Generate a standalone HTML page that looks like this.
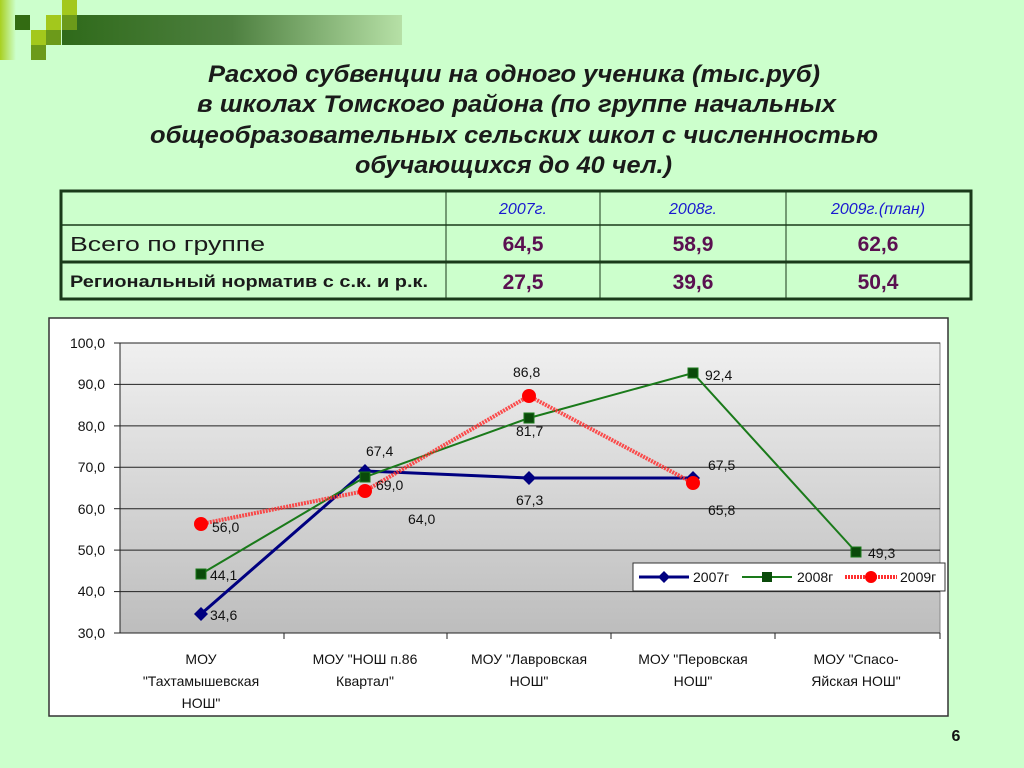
<!DOCTYPE html>
<html><head><meta charset="utf-8"><style>
body{margin:0;width:1024px;height:768px;background:#ccffcc;overflow:hidden;font-family:"Liberation Sans",sans-serif}
</style></head><body>
<svg width="1024" height="768" xmlns="http://www.w3.org/2000/svg" style="position:absolute;left:0;top:0">
<defs>
<linearGradient id="bar" x1="0" x2="1"><stop offset="0" stop-color="#2f6a1a"/><stop offset="0.5" stop-color="#4e8040"/><stop offset="1" stop-color="#b6e0a6"/></linearGradient>
<linearGradient id="lft" x1="0" x2="1"><stop offset="0" stop-color="#a8d020"/><stop offset="1" stop-color="#ccffcc"/></linearGradient>
<linearGradient id="plot" x1="0" y1="0" x2="0" y2="1"><stop offset="0" stop-color="#f0f0f0"/><stop offset="1" stop-color="#bdbdbd"/></linearGradient>
</defs>
<rect x="0" y="0" width="16" height="60" fill="url(#lft)"/>
<rect x="62" y="15" width="340" height="30" fill="url(#bar)"/>
<rect x="62" y="0" width="15" height="15" fill="#a3c81c"/>
<rect x="15" y="15" width="15" height="15" fill="#336b12"/>
<rect x="46" y="15" width="15" height="15" fill="#a3c81c"/>
<rect x="62" y="15" width="15" height="15" fill="#6c9a1a"/>
<rect x="31" y="30" width="15" height="15" fill="#a3c81c"/>
<rect x="46" y="30" width="15" height="15" fill="#6c9a1a"/>
<rect x="31" y="45" width="15" height="15" fill="#6c9a1a"/>
<g font-weight="bold" font-style="italic" font-size="24" fill="#1a1a1a" lengthAdjust="spacingAndGlyphs">
<text x="208" y="82" textLength="612" lengthAdjust="spacingAndGlyphs">Расход субвенции на одного ученика (тыс.руб)</text>
<text x="197" y="112" textLength="639" lengthAdjust="spacingAndGlyphs">в школах Томского района (по группе начальных</text>
<text x="150" y="143" textLength="728" lengthAdjust="spacingAndGlyphs">общеобразовательных сельских школ с численностью</text>
<text x="355" y="173" textLength="317" lengthAdjust="spacingAndGlyphs">обучающихся до 40 чел.)</text>
</g>
<g stroke="#1a3a1a" fill="none">
<rect x="61" y="191" width="910" height="108" stroke-width="3"/>
<line x1="61" y1="225" x2="971" y2="225" stroke-width="1.5"/>
<line x1="61" y1="262" x2="971" y2="262" stroke-width="3"/>
<line x1="446" y1="191" x2="446" y2="299" stroke-width="1"/>
<line x1="600" y1="191" x2="600" y2="299" stroke-width="1"/>
<line x1="786" y1="191" x2="786" y2="299" stroke-width="1"/>
</g>
<g font-style="italic" font-size="16" fill="#1a1ad0" text-anchor="middle">
<text x="523" y="214">2007г.</text><text x="693" y="214">2008г.</text><text x="878" y="214">2009г.(план)</text>
</g>
<text x="70" y="251" font-size="20" fill="#1a1a1a" textLength="195" lengthAdjust="spacingAndGlyphs">Всего по группе</text>
<text x="70" y="287" font-size="17" font-weight="bold" fill="#1a1a1a" textLength="358" lengthAdjust="spacingAndGlyphs">Региональный норматив с с.к. и р.к.</text>
<g font-size="21" font-weight="bold" fill="#5a1050" text-anchor="middle">
<text x="523" y="251">64,5</text><text x="693" y="251">58,9</text><text x="878" y="251">62,6</text>
<text x="523" y="289">27,5</text><text x="693" y="289">39,6</text><text x="878" y="289">50,4</text>
</g>
<rect x="49" y="318" width="899" height="398" fill="#fff" stroke="#333" stroke-width="1.5"/>
<rect x="120" y="343" width="820" height="290" fill="url(#plot)" stroke="#888"/>
<g stroke="#222" stroke-width="1">
<line x1="120" y1="343" x2="940" y2="343"/><line x1="120" y1="384.4" x2="940" y2="384.4"/><line x1="120" y1="425.9" x2="940" y2="425.9"/><line x1="120" y1="467.3" x2="940" y2="467.3"/><line x1="120" y1="508.7" x2="940" y2="508.7"/><line x1="120" y1="550.1" x2="940" y2="550.1"/><line x1="120" y1="591.6" x2="940" y2="591.6"/><line x1="120" y1="633" x2="940" y2="633"/>
<line x1="120" y1="343" x2="120" y2="633"/>
<line x1="114" y1="343" x2="120" y2="343"/><line x1="114" y1="384.4" x2="120" y2="384.4"/><line x1="114" y1="425.9" x2="120" y2="425.9"/><line x1="114" y1="467.3" x2="120" y2="467.3"/><line x1="114" y1="508.7" x2="120" y2="508.7"/><line x1="114" y1="550.1" x2="120" y2="550.1"/><line x1="114" y1="591.6" x2="120" y2="591.6"/><line x1="114" y1="633" x2="120" y2="633"/>
<line x1="284" y1="633" x2="284" y2="639"/><line x1="447" y1="633" x2="447" y2="639"/><line x1="611" y1="633" x2="611" y2="639"/><line x1="775" y1="633" x2="775" y2="639"/><line x1="940" y1="633" x2="940" y2="639"/>
</g>
<g font-size="14" fill="#111" text-anchor="end">
<text x="105" y="348">100,0</text><text x="105" y="389">90,0</text><text x="105" y="431">80,0</text><text x="105" y="472">70,0</text><text x="105" y="514">60,0</text><text x="105" y="555">50,0</text><text x="105" y="596">40,0</text><text x="105" y="638">30,0</text>
</g>
<g font-size="14" fill="#111" text-anchor="middle">
<text x="201" y="664">МОУ</text><text x="201" y="686">"Тахтамышевская</text><text x="201" y="708">НОШ"</text>
<text x="365" y="664">МОУ "НОШ п.86</text><text x="365" y="686">Квартал"</text>
<text x="529" y="664">МОУ "Лавровская</text><text x="529" y="686">НОШ"</text>
<text x="693" y="664">МОУ "Перовская</text><text x="693" y="686">НОШ"</text>
<text x="856" y="664">МОУ "Спасо-</text><text x="856" y="686">Яйская НОШ"</text>
</g>
<polyline points="201,614 365,471 529,478 693,478" fill="none" stroke="#000080" stroke-width="3"/>
<polyline points="201,574 365,477 529,418 693,373 856,552" fill="none" stroke="#1a7a1a" stroke-width="2"/>
<polyline points="201,524 365,491 529,396 693,483" fill="none" stroke="#ff3030" stroke-width="4" stroke-dasharray="2,1" opacity="0.85"/>
<g fill="#000080">
<path d="M201,607 l7,7 -7,7 -7,-7z"/><path d="M365,464 l7,7 -7,7 -7,-7z"/><path d="M529,471 l7,7 -7,7 -7,-7z"/><path d="M693,471 l7,7 -7,7 -7,-7z"/>
</g>
<g fill="#0a4a0a" stroke="#1a7a1a">
<rect x="196" y="569" width="10" height="10"/><rect x="360" y="472" width="10" height="10"/><rect x="524" y="413" width="10" height="10"/><rect x="688" y="368" width="10" height="10"/><rect x="851" y="547" width="10" height="10"/>
</g>
<g fill="#ff0000">
<circle cx="201" cy="524" r="7"/><circle cx="365" cy="491" r="7"/><circle cx="529" cy="396" r="7"/><circle cx="693" cy="483" r="7"/>
</g>
<g font-size="14" fill="#111">
<text x="210" y="620">34,6</text><text x="210" y="580">44,1</text><text x="212" y="532">56,0</text>
<text x="366" y="456">67,4</text><text x="376" y="490">69,0</text><text x="408" y="524">64,0</text>
<text x="513" y="377">86,8</text><text x="516" y="436">81,7</text><text x="516" y="505">67,3</text>
<text x="705" y="380">92,4</text><text x="708" y="470">67,5</text><text x="708" y="515">65,8</text>
<text x="868" y="558">49,3</text>
</g>
<rect x="633" y="563" width="312" height="28" fill="#fff" stroke="#333"/>
<line x1="639" y1="577" x2="689" y2="577" stroke="#000080" stroke-width="3"/><path d="M664,571 l6,6 -6,6 -6,-6z" fill="#000080"/>
<text x="693" y="582" font-size="14" fill="#111">2007г</text>
<line x1="742" y1="577" x2="792" y2="577" stroke="#1a7a1a" stroke-width="2"/><rect x="762" y="572" width="10" height="10" fill="#0a4a0a"/>
<text x="797" y="582" font-size="14" fill="#111">2008г</text>
<line x1="845" y1="577" x2="897" y2="577" stroke="#ff3030" stroke-width="4" stroke-dasharray="2,1"/><circle cx="871" cy="577" r="6" fill="#f00"/>
<text x="900" y="582" font-size="14" fill="#111">2009г</text>
<text x="956" y="741" font-size="16" font-weight="bold" fill="#111" text-anchor="middle">6</text>
</svg>
</body></html>
